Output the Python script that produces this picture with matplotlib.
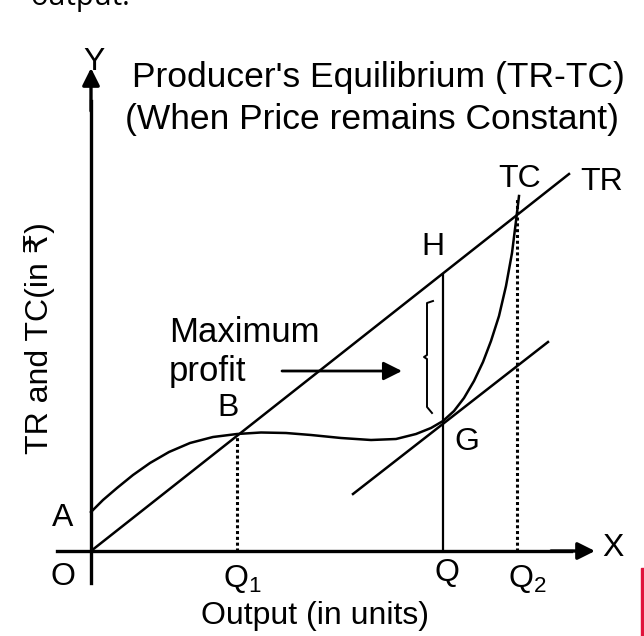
import matplotlib
matplotlib.use("Agg")
import numpy as np
from matplotlib import pyplot as plt
from matplotlib.patches import Rectangle

plt.rcParams["font.family"] = ["Liberation Sans", "DejaVu Sans"]
plt.rcParams["mathtext.default"] = "regular"

# values (output units, rupees)
tr_x = [0, 47.8]
tr_y = [0, 37.7]

tc_x = [0, 1.2, 2.6, 4.2, 5.9, 7.8, 9.9, 12.2, 14.6, 17.0, 19.5, 22.0,
        25.0, 28.0, 30.5, 32.5, 34.0, 35.2, 36.3, 37.3, 38.3, 39.2, 40.0,
        40.8, 41.5, 42.1, 42.5, 42.8]
tc_y = [3.9, 5.1, 6.3, 7.6, 8.8, 9.9, 10.8, 11.4, 11.7, 11.85, 11.8, 11.6,
        11.3, 11.1, 11.2, 11.7, 12.3, 13.0, 14.0, 15.3, 17.0, 18.9, 21.0,
        23.5, 26.5, 29.8, 33.0, 35.5]

tangent_x = [26.2, 45.7]
tangent_y = [5.7, 20.9]

q1, q, q2 = 14.6, 35.2, 42.6
b_y, g_y, h_y, q2_top = 11.7, 13.0, 27.6, 35.3

brace_x = [34.2, 33.6, 33.6, 33.3, 33.6, 33.6, 34.1]
brace_y = [25.0, 24.8, 19.6, 19.4, 19.2, 14.4, 13.8]

fig = plt.figure(figsize=(6.44, 6.36), dpi=100)
ax = fig.add_axes([0, 0, 1, 1])
ax.set_xlim(-9.1, 55.3)
ax.set_ylim(-8.5, 55.1)
ax.axis("off")

k = "black"
# axes with arrows
ax.plot([0, 0], [-3.2, 45], color=k, lw=2.4)
ax.plot([-3.4, 48], [0, 0], color=k, lw=2.4)
ax.annotate("", xy=(0, 48.3), xytext=(0, 44), arrowprops=dict(
    arrowstyle="-|>", mutation_scale=26, lw=2.4, color=k, shrinkA=0, shrinkB=0))
ax.annotate("", xy=(50.4, 0), xytext=(46, 0), arrowprops=dict(
    arrowstyle="-|>", mutation_scale=26, lw=2.4, color=k, shrinkA=0, shrinkB=0))

# curves
ax.plot(tr_x, tr_y, color=k, lw=1.8)
ax.plot(tc_x, tc_y, color=k, lw=1.8)
ax.plot(tangent_x, tangent_y, color=k, lw=1.8)
ax.plot([q, q], [0, h_y], color=k, lw=1.6)
ax.plot([q1, q1], [0, b_y], color=k, lw=2.2, ls=(0, (1, 0.9)))
ax.plot([q2, q2], [0, q2_top], color=k, lw=2.2, ls=(0, (1, 0.9)))
ax.plot(brace_x, brace_y, color=k, lw=1.4)

# maximum profit arrow
ax.annotate("", xy=(31.1, 18.0), xytext=(19.1, 18.0), arrowprops=dict(
    arrowstyle="-|>", mutation_scale=28, lw=2.0, color=k, shrinkA=0, shrinkB=0))

fs_t, fs = 25.5, 23
ax.text(4.1, 47.3, "Producer's Equilibrium (TR-TC)", fontsize=fs_t, va="center")
ax.text(3.4, 43.1, "(When Price remains Constant)", fontsize=fs_t, va="center")
ax.text(7.8, 21.8, "Maximum", fontsize=25, va="center")
ax.text(7.8, 17.9, "profit", fontsize=25, va="center")
ax.text(13.7, 14.3, "B", fontsize=fs, ha="center", va="center")
ax.text(34.2, 30.4, "H", fontsize=fs, ha="center", va="center")
ax.text(37.6, 10.9, "G", fontsize=fs, ha="center", va="center")
ax.text(42.9, 37.2, "TC", fontsize=fs, ha="center", va="center")
ax.text(51.1, 36.9, "TR", fontsize=fs, ha="center", va="center")
ax.text(-2.8, 3.3, "A", fontsize=fs, ha="center", va="center")
ax.text(-2.8, -2.6, "O", fontsize=fs, ha="center", va="center")
ax.text(0.3, 48.9, "Y", fontsize=fs, ha="center", va="center")
ax.text(52.2, 0.3, "X", fontsize=fs, ha="center", va="center")
ax.text(q1 + 0.5, -2.8, "Q$_1$", fontsize=fs, ha="center", va="center")
ax.text(q + 0.4, -2.2, "Q", fontsize=fs, ha="center", va="center")
ax.text(q2 + 1.0, -2.8, "Q$_2$", fontsize=fs, ha="center", va="center")
ax.text(22.4, -6.5, "Output (in units)", fontsize=fs, ha="center", va="center")
ax.text(-5.1, 21.3, "TR and TC(in \u20b9)", fontsize=fs, rotation=90,
        ha="center", va="center")

# cropped bits of the surrounding page
fig.text(30 / 644, 1 + 3 / 636, "output.", fontsize=21, family="Open Sans",
         ha="left", va="center")
fig.patches.append(Rectangle((641 / 644, 0), 4 / 644, 68 / 636,
                             transform=fig.transFigure, color="#e0143c"))

fig.savefig("out.png", dpi=100)
